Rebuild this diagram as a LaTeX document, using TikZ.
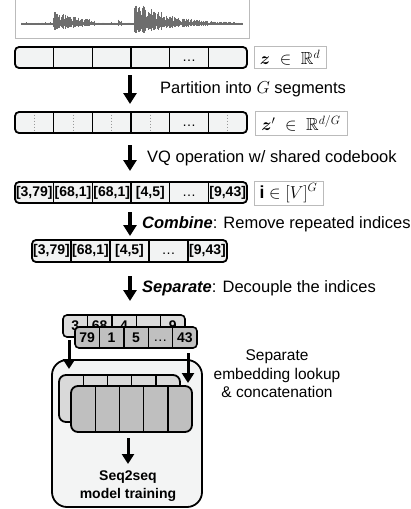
\documentclass[tikz,border=0pt]{standalone}
\usepackage{amsmath,amssymb,bm}
\usepackage{fontspec}
\setmainfont{Liberation Sans}
\usetikzlibrary{arrows.meta}
\definecolor{cellfill}{HTML}{F2F3F3}
\definecolor{lblgray}{HTML}{BBBBBB}
\definecolor{wavegray}{HTML}{6E6E6E}
\definecolor{dotgray}{HTML}{999999}
\definecolor{tokA}{HTML}{DCDCDC}
\definecolor{tokB}{HTML}{C0C0C0}
\definecolor{blkA}{HTML}{D9D9D9}
\definecolor{blkB}{HTML}{BFBFBF}
\definecolor{bigfill}{HTML}{F3F4F4}
\begin{document}
\begin{tikzpicture}[x=1pt,y=-1pt,
  rowbox/.style={draw=black, line width=1.8pt, rounded corners=4pt, fill=cellfill, inner sep=0pt},
  divider/.style={line width=1.4pt},
  dotline/.style={dotgray, line width=1pt, dotted},
  lbl/.style={draw=lblgray, line width=0.8pt, fill=white, inner sep=1pt, font=\fontsize{17.5}{17.5}\selectfont},
  bigarrow/.style={line width=3.3pt, -{Triangle[width=13pt,length=11pt]}},
  medarrow/.style={line width=3pt, -{Triangle[width=12pt,length=10pt]}},
  sidetxt/.style={anchor=west, inner sep=0pt, font=\fontsize{16.5}{16.5}\selectfont},
  celltxt/.style={inner sep=0pt, font=\fontsize{14}{14}\selectfont\bfseries},
  dotstxt/.style={inner sep=0pt, font=\fontsize{14}{14}\selectfont},
  tokrow/.style={draw=black, line width=1.6pt, rounded corners=4pt, inner sep=0pt},
  blk/.style={draw=black, line width=1.8pt, rounded corners=7pt, inner sep=0pt},
  wave/.style={wavegray, line width=0.6pt}
]
\useasboundingbox (0,0) rectangle (410,509);

% waveform
\node[draw=lblgray, line width=0.8pt, minimum width=234pt, minimum height=40pt, inner sep=0pt] (wavebox) at (132,18) {};
\draw[wave] (21,24) -- (242,24);
\pgfmathsetseed{7}
\foreach \x in {21,21.8,...,242}{
  \pgfmathsetmacro\amp{1.6 + (\x>=53)*(\x<=95)*11*exp(-abs(\x-56)/28) + (\x>=134)*(\x<=235)*22*exp(-abs(\x-141)/26) + (abs(\x-120)<1.5)*3}
  \pgfmathsetmacro\rr{0.35+0.65*rnd}
  \draw[wave] (\x,{24-\amp*\rr}) -- (\x,{24+0.5*\amp*\rr});
}

% row 1
\node[rowbox, minimum width=232pt, minimum height=21pt] (r1) at (131,57.5) {};
\foreach \i in {1,...,5} \draw[divider] ({15+\i*232/6},47) -- ({15+\i*232/6},68);
\node[dotstxt] (r1d) at ({15+4.5*232/6},61) {\ldots};
\node[lbl, minimum width=72pt, minimum height=22pt] (l1) at (290,57.5) {$\bm{z}\;\in\;\mathbb{R}^d$};

\coordinate (a1s) at (130,75); \coordinate (a1e) at (130,104);
\draw[bigarrow] (a1s) -- (a1e);
\node[sidetxt] (t1) at (160,89) {Partition into $G$ segments};

% row 2
\node[rowbox, minimum width=232pt, minimum height=21pt] (r2) at (131,122.5) {};
\foreach \i in {1,...,5} \draw[divider] ({15+\i*232/6},112) -- ({15+\i*232/6},133);
\foreach \i in {0,1,2,3,5} \draw[dotline] ({15+(\i+0.5)*232/6},114.5) -- ({15+(\i+0.5)*232/6},131);
\node[dotstxt] (r2d) at ({15+4.5*232/6},126) {\ldots};
\node[lbl, minimum width=92pt, minimum height=24pt] (l2) at (301,123) {$\bm{z}'\;\in\;\mathbb{R}^{d/G}$};

\coordinate (a2s) at (130,145); \coordinate (a2e) at (130,171);
\draw[bigarrow] (a2s) -- (a2e);
\node[sidetxt] (t2) at (147,158) {VQ operation w/ shared codebook};

% row 3
\node[rowbox, minimum width=232pt, minimum height=21pt] (r3) at (131,192.5) {};
\foreach \i in {1,...,5} \draw[divider] ({15+\i*232/6},182) -- ({15+\i*232/6},203);
\foreach \t [count=\i from 0] in {{[3,79]},{[68,1]},{[68,1]},{[4,5]},{},{[9,43]}}
  \node[celltxt] (c3\i) at ({15+(\i+0.5)*232/6},193) {\t};
\node[dotstxt] (r3d) at ({15+4.5*232/6},196) {\ldots};
\node[lbl, minimum width=69pt, minimum height=24pt] (l3) at (288.5,193) {$\mathbf{i}\in[V]^G$};

\coordinate (a3s) at (130,212); \coordinate (a3e) at (130,236);
\draw[bigarrow] (a3s) -- (a3e);
\node[sidetxt] (t3) at (142,224) {\textbf{\textit{Combine}}: Remove repeated indices};

% row 4
\node[rowbox, minimum width=195pt, minimum height=22pt] (r4) at (129.5,251) {};
\foreach \i in {1,...,4} \draw[divider] ({32+\i*39},240) -- ({32+\i*39},262);
\foreach \t [count=\i from 0] in {{[3,79]},{[68,1]},{[4,5]},{},{[9,43]}}
  \node[celltxt] (c4\i) at ({32+(\i+0.5)*39},251) {\t};
\node[dotstxt] (r4d) at ({32+3.5*39},254) {\ldots};

\coordinate (a4s) at (130,276); \coordinate (a4e) at (130,301);
\draw[bigarrow] (a4s) -- (a4e);
\node[sidetxt] (t4) at (142,288) {\textbf{\textit{Separate}}: Decouple the indices};

% big box
\node[draw=black, line width=1.8pt, rounded corners=15pt, fill=bigfill, minimum width=150pt, minimum height=147pt, inner sep=0pt] (big) at (127,433.5) {};

% token rows
\node[tokrow, fill=tokA, minimum width=122pt, minimum height=22pt] (tokback) at (124,326) {};
\foreach \i in {1,...,4} \draw[divider] ({63+\i*24.4},315) -- ({63+\i*24.4},337);
\foreach \t [count=\i from 0] in {3,68,4,{},9}
  \node[celltxt] (tb\i) at ({63+(\i+0.5)*24.4},326) {\t};
\node[tokrow, fill=tokB, minimum width=122pt, minimum height=21pt] (tokfront) at (136,337.5) {};
\foreach \i in {1,...,4} \draw[divider] ({75+\i*24.4},327) -- ({75+\i*24.4},348);
\foreach \t [count=\i from 0] in {79,1,5,{},43}
  \node[celltxt] (tf\i) at ({75+(\i+0.5)*24.4},338) {\t};
\node[dotstxt] (tfd) at ({75+3.5*24.4},341) {\ldots};

% inner blocks
\node[blk, fill=blkA, minimum width=121pt, minimum height=47pt] (bback) at (119.5,398.5) {};
\foreach \i in {1,...,4} \draw[divider] ({59+\i*24.2},375) -- ({59+\i*24.2},388);
\node[blk, fill=blkB, minimum width=121pt, minimum height=46pt] (bfront) at (131.5,409) {};
\foreach \i in {1,...,4} \draw[divider] ({71+\i*24.2},386) -- ({71+\i*24.2},432);

% arrows into box
\coordinate (lls) at (69,340); \coordinate (lle) at (69,369);
\draw[medarrow] (lls) -- (lle);
\coordinate (rrs) at (188,353); \coordinate (rre) at (188,383);
\draw[medarrow] (rrs) -- (rre);
\coordinate (ins) at (128,438); \coordinate (ine) at (128,464);
\draw[medarrow] (ins) -- (ine);

\node[celltxt] (seq1) at (128,477) {Seq2seq};
\node[celltxt] (seq2) at (128,495) {model training};

\node[align=center, inner sep=0pt, font=\fontsize{15.5}{18.5}\selectfont] (emb) at (277,374) {Separate\\embedding lookup\\\& concatenation};
\end{tikzpicture}
\end{document}
